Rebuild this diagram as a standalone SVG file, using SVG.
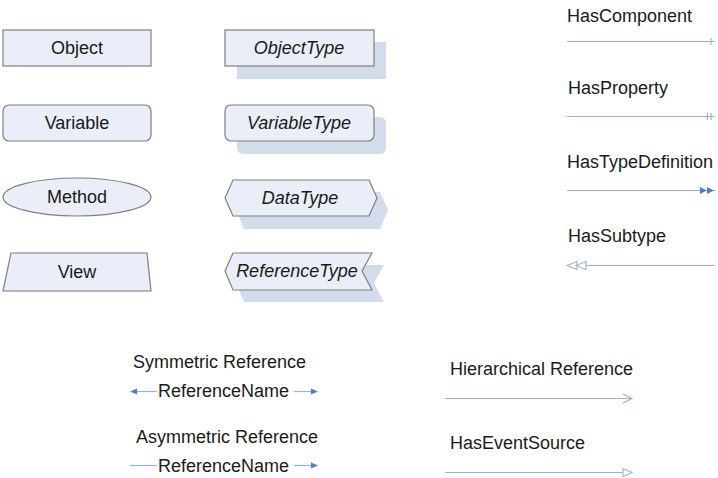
<svg xmlns="http://www.w3.org/2000/svg" width="718" height="478" viewBox="0 0 718 478">
<style>
.n{fill:#e9eef8;stroke:#7f7f7f;stroke-width:1.2}
.sh{fill:#d3dcea}
.t{font-family:"Liberation Sans",Arial,sans-serif;font-size:18px;fill:#1a1a1a}
.c{text-anchor:middle}
.i{font-style:italic}
.l{stroke:#9fb0d2;stroke-width:1.2;fill:none}
.a{fill:#4f7fbf}
.o{fill:#fff;stroke:#9fb0d2;stroke-width:1.1}
</style>
<rect width="718" height="478" fill="#fff"/>
<g id="object"><rect class="n" x="3" y="30" width="148" height="36"/><text class="t c" x="77" y="54">Object</text></g>
<g id="variable"><rect class="n" x="3" y="105" width="148" height="36" rx="6"/><text class="t c" x="77" y="129">Variable</text></g>
<g id="method"><ellipse class="n" cx="77" cy="197" rx="74" ry="19"/><text class="t c" x="77" y="203">Method</text></g>
<g id="view"><polygon class="n" points="11,253 147,253 151,291 3,291"/><text class="t c" x="77" y="278">View</text></g>
<g id="objecttype"><rect class="sh" x="237" y="42" width="149" height="37"/><rect class="n" x="225" y="30" width="149" height="36"/><text class="t c i" x="299" y="54">ObjectType</text></g>
<g id="variabletype"><rect class="sh" x="237" y="117" width="149" height="37" rx="6"/><rect class="n" x="225" y="105" width="149" height="36" rx="6"/><text class="t c i" x="299" y="129">VariableType</text></g>
<g id="datatype"><polygon class="sh" points="236,210 244,192 380,192 388,210 380,229 244,229"/><polygon class="n" points="225,198 233,180 369,180 377,198 369,216 233,216"/><text class="t c i" x="300" y="204">DataType</text></g>
<g id="referencetype"><polygon class="sh" points="236,283 244,265 384,265 374,283 384,302 244,302"/><polygon class="n" points="225,271 233,253 372,253 362,271 372,290 233,290"/><text class="t c i" x="297" y="277">ReferenceType</text></g>
<g id="labels">
<text class="t" x="567" y="22">HasComponent</text>
<text class="t" x="568" y="94">HasProperty</text>
<text class="t" x="567" y="168">HasTypeDefinition</text>
<text class="t" x="568" y="242">HasSubtype</text>
<text class="t" x="133" y="368">Symmetric Reference</text>
<text class="t" x="136" y="443">Asymmetric Reference</text>
<text class="t" x="450" y="375">Hierarchical Reference</text>
<text class="t" x="450" y="449">HasEventSource</text>
<text class="t" x="158" y="397">ReferenceName</text>
<text class="t" x="158" y="472">ReferenceName</text>
</g>
<g id="connectors">
<line class="l" x1="567" y1="41.5" x2="715" y2="41.5"/>
<line class="l" x1="711" y1="38" x2="711" y2="45"/>
<line class="l" x1="567" y1="116.5" x2="715" y2="116.5"/>
<line class="l" x1="707.5" y1="113" x2="707.5" y2="120"/>
<line class="l" x1="711" y1="113" x2="711" y2="120"/>
<line class="l" x1="567" y1="190.5" x2="715" y2="190.5"/>
<polygon class="a" points="700,187 707,190.5 700,194"/>
<polygon class="a" points="707,187 714,190.5 707,194"/>
<line class="l" x1="577" y1="265.5" x2="715" y2="265.5"/>
<polygon class="o" points="567,265.5 577,261.5 577,269.5"/>
<polygon class="o" points="576,265.5 586,261.5 586,269.5"/>
<line class="l" x1="135" y1="391.5" x2="157" y2="391.5"/>
<line class="l" x1="294" y1="391.5" x2="313" y2="391.5"/>
<polygon class="a" points="130,391.5 137,388.5 137,394.5"/>
<polygon class="a" points="318,391.5 311,388.5 311,394.5"/>
<line class="l" x1="130" y1="465.5" x2="157" y2="465.5"/>
<line class="l" x1="294" y1="465.5" x2="313" y2="465.5"/>
<polygon class="a" points="318,465.5 311,462.5 311,468.5"/>
<line class="l" x1="445" y1="398.5" x2="632" y2="398.5"/>
<polyline class="l" points="623,394 632,398.5 623,403"/>
<line class="l" x1="445" y1="472.5" x2="623" y2="472.5"/>
<polygon class="o" points="623,468.5 632,472.5 623,476.5"/>
</g>
</svg>
